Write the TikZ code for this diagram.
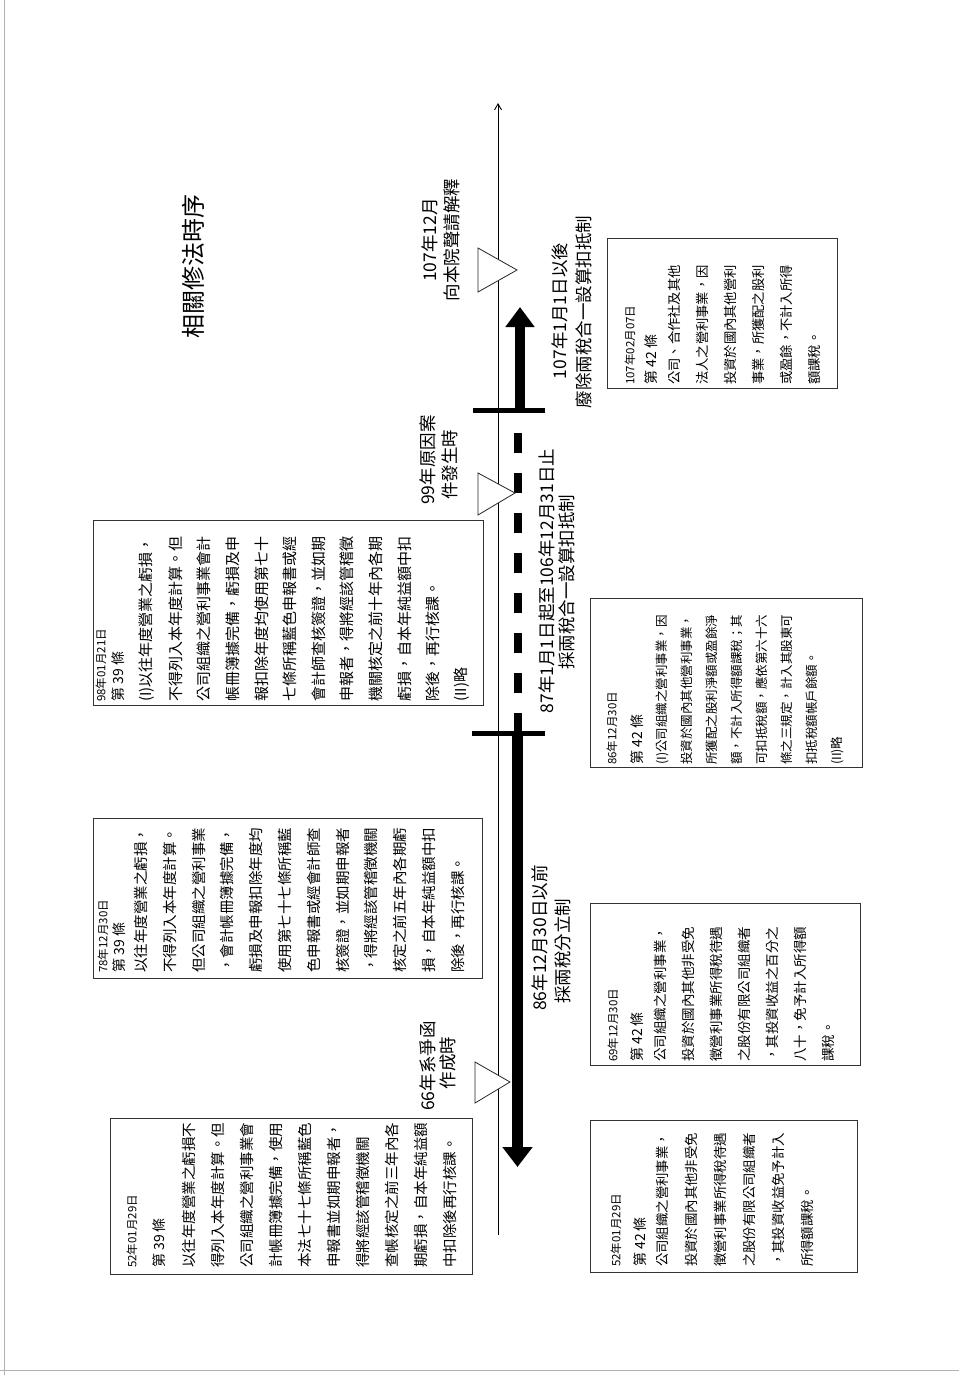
\documentclass[tikz,border=0pt]{standalone}
\usepackage{fontspec}
\newfontfamily\cjk{Noto Sans CJK TC}
\usetikzlibrary{arrows.meta}
\begin{document}
\begin{tikzpicture}[x=1pt,y=1pt,
  frame/.style={draw=black!80, line width=0.9pt, inner sep=0pt, anchor=north west},
  bd/.style={rotate=90, anchor=west, inner sep=0pt, font=\fontsize{#1}{#1}\selectfont\cjk},
  lbl/.style={rotate=90, inner sep=0pt, font=\fontsize{17.5}{17.5}\selectfont\cjk},
  tri/.style={draw=black!85, line width=0.8pt, fill=white},
  bar/.style={line width=5pt},
]
\useasboundingbox (0,0) rectangle (959,-1375);
\fill[white] (0,0) rectangle (959,-1375);
\draw[black!30, line width=1pt] (4,0) -- (4,-1375);
\draw[black!30, line width=1pt] (0,-1370) -- (959,-1370);

% title
\node[lbl, font=\fontsize{24}{24}\selectfont\cjk] (title) at (193,-266) {相關修法時序};

% ---------- timeline ----------
\coordinate (tlb) at (498,-1235);
\coordinate (tlt) at (498,-103);
\draw[line width=0.9pt, -{Straight Barb[length=6pt,width=7pt]}] (tlb) -- (tlt);

\coordinate (cr1l) at (472,-733);
\coordinate (cr1r) at (545,-733);
\coordinate (cr1) at (517.5,-733);
\coordinate (a1) at (517.5,-1167);
\draw[line width=11pt, -{Triangle[length=20pt,width=29pt]}] (cr1) -- (a1);
\draw[bar] (cr1l) -- (cr1r);

\coordinate (d0) at (518,-733);
\coordinate (d1) at (518,-433);
\draw[line width=8pt, dash pattern=on 20pt off 20pt] (d0) -- (d1);

\coordinate (cr2l) at (473,-410);
\coordinate (cr2r) at (545,-410);
\coordinate (cr2) at (520,-410);
\coordinate (a2) at (520,-307);
\draw[line width=10pt, -{Triangle[length=20pt,width=28pt]}] (cr2) -- (a2);
\draw[bar] (cr2l) -- (cr2r);

% triangles
\draw[tri] (475,-1062) -- (510,-1082) -- (475,-1103) -- cycle;
\draw[tri] (478,-473) -- (515,-493) -- (478,-515) -- cycle;
\draw[tri] (478,-248) -- (517,-270) -- (478,-292) -- cycle;

% labels
\node[lbl] (l66a) at (428,-1066) {66年系爭函};
\node[lbl] (l66b) at (448,-1063) {作成時};
\node[lbl] (l86a) at (540,-938) {86年12月30日以前};
\node[lbl] (l86b) at (563,-951) {採兩稅分立制};
\node[lbl] (l87a) at (547,-581) {87年1月1日起至106年12月31日止};
\node[lbl] (l87b) at (567,-582) {採兩稅合一設算扣抵制};
\node[lbl, anchor=west] (l99a) at (428,-505) {99年原因案};
\node[lbl, anchor=west] (l99b) at (450,-500) {件發生時};
\node[lbl] (l107a) at (430,-240) {107年12月};
\node[lbl] (l107b) at (452,-240) {向本院聲請解釋};
\node[lbl] (l107c) at (560,-311) {107年1月1日以後};
\node[lbl] (l107d) at (584,-312) {廢除兩稅合一設算扣抵制};

% ---------- box 1: 52.01.29 art.39 ----------
\node[frame, minimum width=362pt, minimum height=156pt] (b1) at (110,-1118) {};
\node[bd=11.5] (b1d) at (132,-1268) {52年01月29日};
\node[bd=14] (b1h) at (159,-1268) {第 39 條};
\foreach \t [count=\i from 0] in {以往年度營業之虧損不,得列入本年度計算。但,公司組織之營利事業會,計帳冊簿據完備，使用,本法七十七條所稱藍色,申報書並如期申報者，,得將經該管稽徵機關,查帳核定之前三年內各,期虧損，自本年純益額,中扣除後再行核課。}
  \node[bd=14.5] (b1l\i) at ({189+29*\i},-1268) {\t};

% ---------- box 2: 52.01.29 art.42 ----------
\node[frame, minimum width=267pt, minimum height=152pt] (b2) at (590,-1120) {};
\node[bd=11.5] (b2d) at (616,-1267) {52年01月29日};
\node[bd=14] (b2h) at (640,-1267) {第 42 條};
\foreach \t [count=\i from 0] in {公司組織之營利事業，,投資於國內其他非受免,徵營利事業所得稅待遇,之股份有限公司組織者,，其投資收益免予計入,所得額課稅。}
  \node[bd=13.4] (b2l\i) at ({662+29*\i},-1267) {\t};

% ---------- box 3: 78.12.30 art.39 ----------
\node[frame, minimum width=389pt, minimum height=160pt] (b3) at (93,-818) {};
\node[bd=11.5] (b3d) at (103,-973) {78年12月30日};
\node[bd=14] (b3h) at (119,-973) {第 39 條};
\foreach \t [count=\i from 0] in {以往年度營業之虧損，,不得列入本年度計算。,但公司組織之營利事業,，會計帳冊簿據完備，,虧損及申報扣除年度均,使用第七十七條所稱藍,色申報書或經會計師查,核簽證，並如期申報者,，得將經該管稽徵機關,核定之前五年內各期虧,損，自本年純益額中扣,除後，再行核課。}
  \node[bd=14.5] (b3l\i) at ({141+28.8*\i},-973) {\t};

% ---------- box 4: 69.12.30 art.42 ----------
\node[frame, minimum width=270pt, minimum height=162pt] (b4) at (590,-903) {};
\node[bd=11.5] (b4d) at (613,-1062) {69年12月30日};
\node[bd=14] (b4h) at (637,-1062) {第 42 條};
\foreach \t [count=\i from 0] in {公司組織之營利事業，,投資於國內其他非受免,徵營利事業所得稅待遇,之股份有限公司組織者,，其投資收益之百分之,八十，免予計入所得額,課稅。}
  \node[bd=13.5] (b4l\i) at ({660+28*\i},-1062) {\t};

% ---------- box 5: 98.01.21 art.39 ----------
\node[frame, minimum width=390pt, minimum height=185pt] (b5) at (93,-520) {};
\node[bd=11.5] (b5d) at (101,-702) {98年01月21日};
\node[bd=14] (b5h) at (118,-702) {第 39 條};
\foreach \t [count=\i from 0] in {(I)以往年度營業之虧損，,不得列入本年度計算。但,公司組織之營利事業會計,帳冊簿據完備，虧損及申,報扣除年度均使用第七十,七條所稱藍色申報書或經,會計師查核簽證，並如期,申報者，得將經該管稽徵,機關核定之前十年內各期,虧損，自本年純益額中扣,除後，再行核課。,(II)略}
  \node[bd=15] (b5l\i) at ({147+28.6*\i},-702) {\t};

% ---------- box 6: 86.12.30 art.42 ----------
\node[frame, minimum width=272pt, minimum height=169pt] (b6) at (590,-598) {};
\node[bd=11.5] (b6d) at (612,-765) {86年12月30日};
\node[bd=14] (b6h) at (637,-765) {第 42 條};
\foreach \t [count=\i from 0] in {(I)公司組織之營利事業，因,投資於國內其他營利事業，,所獲配之股利淨額或盈餘淨,額，不計入所得額課稅；其,可扣抵稅額，應依第六十六,條之三規定，計入其股東可,扣抵稅額帳戶餘額。,(II)略}
  \node[bd=12.5] (b6l\i) at ({662+25*\i},-765) {\t};

% ---------- box 7: 107.02.07 art.42 ----------
\node[frame, minimum width=230pt, minimum height=150pt] (b7) at (607,-238) {};
\node[bd=11.5] (b7d) at (630,-385) {107年02月07日};
\node[bd=14] (b7h) at (651,-385) {第 42 條};
\foreach \t [count=\i from 0] in {公司、合作社及其他,法人之營利事業，因,投資於國內其他營利,事業，所獲配之股利,或盈餘，不計入所得,額課稅。}
  \node[bd=13.3] (b7l\i) at ({674+28*\i},-385) {\t};

\end{tikzpicture}
\end{document}
